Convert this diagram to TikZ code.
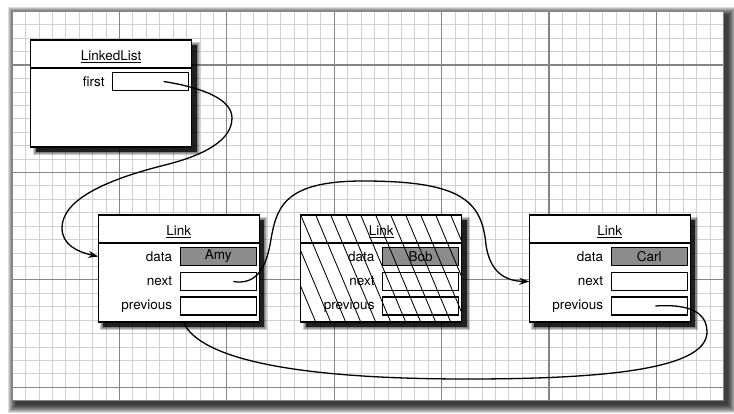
\documentclass[tikz,border=0pt]{standalone}
\usepackage{fontspec}
\setmainfont{TeX Gyre Heros}
\usetikzlibrary{arrows.meta}
\definecolor{datagray}{HTML}{8C8C8C}
\definecolor{finegrid}{HTML}{D0D0D0}
\definecolor{coarsegrid}{HTML}{858585}

% frame of an object box: shadow, outline, underlined class name, divider
% (used inside a scope shifted to the box's top-left corner)
\newcommand\objframe[2]{%
  \fill[black,opacity=.75] (5,5) rectangle (166,112);
  \foreach \k in {1,2,3}{\fill[black,opacity=.2] (5-\k,5-\k) rectangle (166+\k,112+\k);}
  \node[objbox] (#1) at (0,0) {};
  \node[boxtitle] (#1-title) at (80.5,16.5) {\underline{#2}};
  \draw[boxrule] (0,28) -- (161,28);
}
% one instance field: label and value slot
\newcommand\objfield[5]{%
  \node[fieldlabel] (#1-lbl) at (74,#2) {#3};
  \node[#4] (#1) at (82,#2) {#5};
}

\begin{document}
\begin{tikzpicture}[x=1pt,y=-1pt,
  txt/.style={font=\fontsize{13.5}{16}\selectfont},
  objbox/.style={draw=black,line width=1.4pt,fill=white,minimum width=161pt,minimum height=107pt,anchor=north west,inner sep=0pt,outer sep=0pt},
  boxtitle/.style={txt,inner sep=0pt},
  boxrule/.style={line width=1.2pt},
  fieldlabel/.style={txt,anchor=east,inner sep=0pt},
  field/.style={txt,draw=black,line width=1.1pt,fill=white,minimum width=76pt,minimum height=18pt,inner sep=0pt,outer sep=0pt,anchor=west},
  datafield/.style={field,fill=datagray},
  hatch/.style={line width=0.85pt},
  link/.style={line width=1.3pt},
  arrowlink/.style={link,-{Stealth[length=10pt,width=7pt]}},
  fineline/.style={draw=finegrid,line width=0.7pt},
  coarseline/.style={draw=coarsegrid,line width=1.1pt}]

\useasboundingbox (0,0) rectangle (734,413);
\fill[white] (0,0) rectangle (734,413);

% sheet of graph paper with its soft shadow
\foreach \k in {0,...,8}{\fill[black,opacity=.14] (16-\k,15-\k) rectangle (727.5+\k,404.6+\k);}
\fill[white] (12,11.3) rectangle (723.5,400.6);
\foreach \i in {0,...,53}{\draw[fineline] ({12+13.425*\i},11.3) -- ({12+13.425*\i},400.6);}
\foreach \j in {0,...,29}{\draw[fineline] (12,{11.3+13.425*\j}) -- (723.5,{11.3+13.425*\j});}
\foreach \i in {8,16,...,48}{\draw[coarseline] ({12+13.425*\i},11.3) -- ({12+13.425*\i},400.6);}
\foreach \j in {4,12,20,28}{\draw[coarseline] (12,{11.3+13.425*\j}) -- (723.5,{11.3+13.425*\j});}
\draw[coarseline] (12,11.3) rectangle (723.5,400.6);

% the list object
\begin{scope}[shift={(30.7,40)}]
  \objframe{list}{LinkedList}
  \objfield{list-first}{41.5}{first}{field}{}
\end{scope}

% the three links
\begin{scope}[shift={(98.3,215)}]
  \objframe{amy}{Link}
  \objfield{amy-data}{41.5}{data}{datafield}{Amy}
  \objfield{amy-next}{66.5}{next}{field}{}
  \objfield{amy-previous}{91}{previous}{field}{}
\end{scope}

\begin{scope}[shift={(300.7,215)}]
  \objframe{bob}{Link}
  \objfield{bob-data}{41.5}{data}{datafield}{Bob}
  \objfield{bob-next}{66.5}{next}{field}{}
  \objfield{bob-previous}{91}{previous}{field}{}
  % removed link is struck through with hatching
  \begin{scope}
    \clip (0,0) rectangle (161,107);
    \foreach \x in {-45,-30,...,165}{\draw[hatch] (\x,0) -- ++(45,107);}
  \end{scope}
\end{scope}

\begin{scope}[shift={(529.3,215)}]
  \objframe{carl}{Link}
  \objfield{carl-data}{41.5}{data}{datafield}{Carl}
  \objfield{carl-next}{66.5}{next}{field}{}
  \objfield{carl-previous}{91}{previous}{field}{}
\end{scope}

% references
\coordinate (list-tail) at ([xshift=13pt]list-first.center);
\coordinate (amy-tail) at ([xshift=15pt]amy-next.center);
\coordinate (carl-tail) at ([xshift=6pt]carl-previous.center);
\path (amy-previous.west |- amy.south) ++(3,0) coordinate (amy-back);

\draw[arrowlink] (list-tail) .. controls (205,88) and (232,100) .. (232,118)
  .. controls (232,140) and (205,155) .. (165,165)
  .. controls (105,180) and (62,200) .. (62,228)
  .. controls (62,245) and (78,252) .. (amy.west |- amy-data.center);

\draw[arrowlink] (amy-tail) .. controls (255,285) and (265,270) .. (270,245)
  .. controls (276,210) and (280,181) .. (363,181)
  .. controls (460,181) and (482,200) .. (486,245)
  .. controls (490,272) and (505,281) .. (carl.west |- carl-next.center);

\draw[link] (carl-tail) .. controls (685,304) and (707,310) .. (707,332)
  .. controls (707,370) and (600,379) .. (467,379)
  .. controls (300,379) and (200,360) .. (amy-back);

\end{tikzpicture}
\end{document}
